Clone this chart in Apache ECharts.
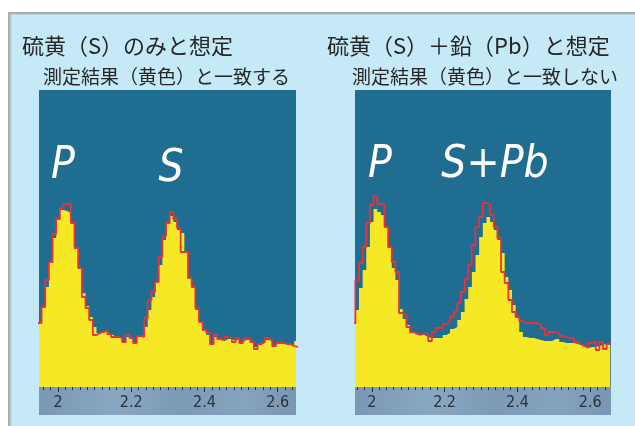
<!DOCTYPE html>
<html>
<head>
<meta charset="utf-8">
<script src="https://cdn.jsdelivr.net/npm/echarts@6/dist/echarts.min.js"></script>
<style>
html,body{margin:0;padding:0;background:#ffffff;}
#chart{width:635px;height:426px;}
</style>
</head>
<body>
<div id="chart"></div>
<script>
// ---- data (energy bins, keV) ----
const binCenters = [1.95,1.96,1.97,1.98,1.99,2.00,2.01,2.02,2.03,2.04,2.05,2.06,2.07,2.08,2.09,2.10,2.11,2.12,2.13,2.14,2.15,2.16,2.17,2.18,2.19,2.20,2.21,2.22,2.23,2.24,2.25,2.26,2.27,2.28,2.29,2.30,2.31,2.32,2.33,2.34,2.35,2.36,2.37,2.38,2.39,2.40,2.41,2.42,2.43,2.44,2.45,2.46,2.47,2.48,2.49,2.50,2.51,2.52,2.53,2.54,2.55,2.56,2.57,2.58,2.59,2.60,2.61,2.62,2.63,2.64,2.65];

// left panel: measured (yellow) and fit assuming S only (red)
const leftMeasured = [64,80,100,124,149,167,177,176,174,164,140,120,94,81,70,60,54,55,55,53,51,49,49,46,50,50,45,51,50,60,77,90,105,122,147,164,171,165,157,154,135,109,101,77,65,56,52,44,50,47,46,48,48,46,48,45,47,47,45,40,43,44,47,46,42,44,44,43,43,42,46];
const leftFit      = [64,80,107,125,153,168,179,183,183,164,139,119,90,79,67,52,54,55,57,53,50,50,49,45,52,49,44,51,50,69,87,95,105,130,151,164,175,168,159,135,135,109,100,79,65,57,54,43,52,48,47,50,49,45,49,44,48,48,45,38,43,45,49,47,41,44,44,43,43,41,40];

// right panel: measured (yellow) and fit assuming S + Pb (red)
const rightMeasured = [64,77,99,117,140,165,178,175,172,160,140,119,107,78,68,62,55,53,52,52,50,49,49,49,49,52,54,58,60,67,75,88,100,115,132,150,164,170,165,157,147,134,110,97,82,70,55,50,49,49,48,47,46,46,46,48,48,45,44,44,44,43,42,40,39,40,40,41,42,43,42];
const rightFit      = [64,107,124,140,164,182,191,183,183,160,140,125,115,74,72,60,55,53,52,54,53,46,55,59,59,63,65,70,75,84,95,108,122,142,160,170,184,182,172,160,149,115,104,87,75,70,66,64,64,64,64,62,59,52,55,55,54,51,50,49,49,45,43,41,39,44,46,37,45,38,43];

const tickLabels = [2, 2.2, 2.4, 2.6];
const minorTickValues = [1.96,1.98,2.00,2.02,2.04,2.06,2.08,2.10,2.12,2.14,2.16,2.18,2.20,2.22,2.24,2.26,2.28,2.30,2.32,2.34,2.36,2.38,2.40,2.42,2.44,2.46,2.48,2.50,2.52,2.54,2.56,2.58,2.60,2.62,2.64];

const titles = ['硫黄（S）のみと想定', '硫黄（S）＋鉛（Pb）と想定'];
const subtitles = ['測定結果（黄色）と一致する', '測定結果（黄色）と一致しない'];
const peakLabels = [['P', 'S'], ['P', 'S+Pb']];

// ---- helpers ----
const HALF = 0.005;
function toSteps(centers, values) {
  const pts = centers.map((c, i) => [c - HALF, values[i]]);
  pts.push([centers[centers.length - 1] + HALF, values[values.length - 1]]);
  return pts;
}

const YELLOW = '#f7e826';
const RED = '#e8323c';
const PLOT_BG = '#206d92';
const LABEL_FONT = "'Liberation Sans Narrow','Arial Narrow','DejaVu Sans Condensed','Liberation Sans',sans-serif";
const JP_FONT = "'Noto Sans CJK JP','Noto Sans CJK SC',sans-serif";

const panels = [
  {left: 39, width: 257, min: 1.948, max: 2.650},
  {left: 355, width: 256, min: 1.954, max: 2.657}
];
const TOP = 90, HEIGHT = 297;

const grids = [], xAxes = [], yAxes = [], series = [];
panels.forEach((p, gi) => {
  grids.push({left: p.left, top: TOP, width: p.width, height: HEIGHT, show: true,
    backgroundColor: PLOT_BG, borderWidth: 0, containLabel: false, outerBoundsMode: 'none'});
  // minor ticks
  xAxes.push({gridIndex: gi, type: 'value', min: p.min, max: p.max, position: 'bottom',
    axisLine: {show: false}, splitLine: {show: false},
    axisLabel: {show: false},
    axisTick: {show: true, length: 3, customValues: minorTickValues, lineStyle: {color: '#2a2e33', width: 1}}});
  // major ticks + labels
  xAxes.push({gridIndex: gi, type: 'value', min: p.min, max: p.max, position: 'bottom',
    axisLine: {show: false}, splitLine: {show: false},
    axisTick: {show: true, length: 5, customValues: tickLabels, lineStyle: {color: '#2a2e33', width: 1}},
    axisLabel: {show: true, customValues: tickLabels, margin: 8, fontSize: 16,
      color: '#2b2f36', fontFamily: LABEL_FONT, formatter: v => String(v)}});
  yAxes.push({gridIndex: gi, type: 'value', min: 0, max: HEIGHT, show: false});
});

const datasets = [[leftMeasured, leftFit], [rightMeasured, rightFit]];
datasets.forEach((d, gi) => {
  series.push({type: 'line', xAxisIndex: gi * 2, yAxisIndex: gi, step: 'end',
    data: toSteps(binCenters, d[0]), symbol: 'none', silent: true, clip: true,
    lineStyle: {width: 0, color: YELLOW}, areaStyle: {color: YELLOW, opacity: 1}, z: 2});
  series.push({type: 'line', xAxisIndex: gi * 2, yAxisIndex: gi, step: 'end',
    data: toSteps(binCenters, d[1]), symbol: 'none', silent: true, clip: true,
    lineStyle: {width: 1.8, color: RED}, z: 3});
});

const bandFill = {type: 'linear', x: 0, y: 0, x2: 1, y2: 0, colorStops: [
  {offset: 0, color: '#7a98b4'}, {offset: 0.3, color: '#8aa7c2'}, {offset: 0.55, color: '#7c9ab6'},
  {offset: 0.8, color: '#86a3be'}, {offset: 1, color: '#7995b1'}]};

const graphics = [
  {type: 'rect', z: -20, shape: {x: 8, y: 12, width: 627, height: 414}, style: {fill: '#a9abad'}},
  {type: 'rect', z: -19, shape: {x: 10, y: 14, width: 625, height: 412}, style: {fill: '#b9d3dc'}},
  {type: 'rect', z: -18, shape: {x: 12, y: 15, width: 623, height: 411}, style: {fill: '#c5e9f6'}},
  {type: 'rect', z: -5, shape: {x: 39, y: 387, width: 257, height: 28}, style: {fill: bandFill}},
  {type: 'rect', z: -5, shape: {x: 355, y: 387, width: 256, height: 28}, style: {fill: bandFill}},
  {type: 'text', z: 50, style: {x: 22, y: 46, text: titles[0], fill: '#262626', font: 'normal 22px ' + JP_FONT, verticalAlign: 'middle'}},
  {type: 'text', z: 50, style: {x: 43, y: 77, text: subtitles[0], fill: '#262626', font: 'normal 19px ' + JP_FONT, verticalAlign: 'middle'}},
  {type: 'text', z: 50, style: {x: 327, y: 46, text: titles[1], fill: '#262626', font: 'normal 22px ' + JP_FONT, verticalAlign: 'middle'}},
  {type: 'text', z: 50, style: {x: 352, y: 77, text: subtitles[1], fill: '#262626', font: 'normal 19px ' + JP_FONT, verticalAlign: 'middle'}},
  {type: 'text', z: 50, style: {x: 63, y: 167, text: peakLabels[0][0], fill: '#ffffff', font: 'italic 44px ' + LABEL_FONT, align: 'center', verticalAlign: 'middle'}},
  {type: 'text', z: 50, style: {x: 171, y: 170, text: peakLabels[0][1], fill: '#ffffff', font: 'italic 44px ' + LABEL_FONT, align: 'center', verticalAlign: 'middle'}},
  {type: 'text', z: 50, style: {x: 380, y: 166, text: peakLabels[1][0], fill: '#ffffff', font: 'italic 44px ' + LABEL_FONT, align: 'center', verticalAlign: 'middle'}},
  {type: 'text', z: 50, style: {x: 495, y: 166, text: peakLabels[1][1], fill: '#ffffff', font: 'italic 44px ' + LABEL_FONT, align: 'center', verticalAlign: 'middle'}}
];

const chart = echarts.init(document.getElementById('chart'), null, {renderer: 'canvas'});
chart.setOption({
  animation: false,
  backgroundColor: '#ffffff',
  grid: grids,
  xAxis: xAxes,
  yAxis: yAxes,
  series: series,
  graphic: {elements: graphics}
});
</script>
</body>
</html>
